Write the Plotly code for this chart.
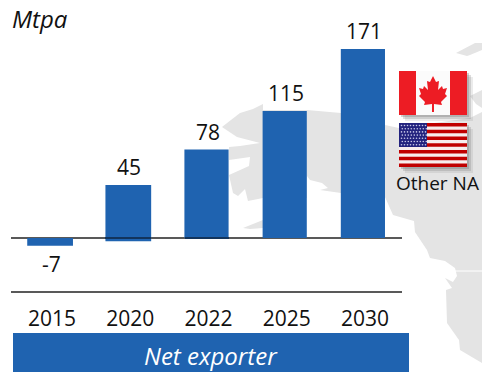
import plotly.graph_objects as go

# ---- data
categories = ["2015", "2020", "2022", "2025", "2030"]
value_labels = ["-7", "45", "78", "115", "171"]
bar_tops = [0, 48, 80, 115, 171]
bar_bases = [-7, -3, 0, 0, 0]
label_anchor = [-7, 48, 80, 115, 171]
label_shift = [-18, 18, 18, 18, 18]
bar_widths = [0.585, 0.585, 0.565, 0.565, 0.565]

W, H = 482, 372
PL, PR, PT, PB = 11, 402, 0, 291
PX_PER_UNIT = 1.105
ZERO_PX = 238
BLUE = "#1F63B0"
LINE = "#595959"
FONT = "Open Sans"


def px(x):
    return (x - PL) / (PR - PL)


def py(y):
    return (PB - y) / (PB - PT)


def path(points):
    return "M" + " L".join(f"{px(x):.4f},{py(y):.4f}" for x, y in points) + " Z"


shapes = []


def poly(points, color, layer="below"):
    shapes.append(dict(type="path", xref="paper", yref="paper", path=path(points),
                       fillcolor=color, line=dict(width=0), layer=layer))


def rect(x0, y0, x1, y1, color, layer="below"):
    shapes.append(dict(type="rect", xref="paper", yref="paper",
                       x0=px(x0), x1=px(x1), y0=py(y0), y1=py(y1),
                       fillcolor=color, line=dict(width=0), layer=layer))


# ---- background map (decoration)
MAP = "#E4E4E4"
poly([(222, 127), (240, 113), (253, 109), (263, 104), (263, 110), (307, 110), (341, 113),
      (385, 125), (399, 128), (470, 118), (482, 112), (482, 363), (460, 350), (459, 340),
      (447, 323), (446, 290), (452, 288), (445, 278), (453, 282), (457, 276), (455, 268),
      (445, 261), (430, 258), (427, 250), (415, 232), (414, 221), (393, 215), (385, 197),
      (341, 193), (320, 190), (328, 188), (322, 183), (310, 180), (307, 176),
      (307, 198), (263, 198), (248, 201), (245, 189), (238, 196),
      (233, 193), (229, 175), (249, 166), (250, 157), (229, 160), (229, 147),
      (240, 146), (260, 143), (237, 137)],
     MAP)
poly([(456, 53), (475, 43), (482, 43), (482, 50), (470, 55), (467, 56)], MAP)
poly([(470, 96), (482, 90), (482, 108), (476, 104)], MAP)
poly([(243, 228), (258, 222), (263, 220), (263, 228), (250, 229)], MAP)
shapes.append(dict(type="line", xref="paper", yref="paper", layer="below",
                   x0=px(455), x1=px(482), y0=py(271), y1=py(271),
                   line=dict(color="white", width=1)))
shapes.append(dict(type="line", xref="paper", yref="paper", layer="below",
                   x0=px(428), x1=px(453), y0=py(260), y1=py(275),
                   line=dict(color="white", width=1)))

# ---- flags (decoration)
for dx, col in ((6, "rgba(120,120,120,0.15)"), (4, "rgba(120,120,120,0.25)"), (2, "rgba(110,110,110,0.3)")):
    rect(399 + dx, 71 + dx, 467 + dx, 115 + dx, col, "above")
    rect(399 + dx, 123 + dx, 467 + dx, 167 + dx, col, "above")

RED = "#ED1C24"
rect(399, 71, 467, 115, "#FBFBFB", "above")
rect(399, 71, 416, 115, RED, "above")
rect(450, 71, 467, 115, RED, "above")
poly([(433, 76), (436, 82), (439, 81), (438, 90), (442, 86), (443, 89), (447, 88), (445, 94),
      (447, 96), (441, 102), (442, 105), (434, 104), (434, 112), (432, 112), (432, 104),
      (424, 105), (425, 102), (419, 96), (421, 94), (419, 88), (423, 89), (424, 86), (428, 90),
      (427, 81), (430, 82)], RED, "above")

rect(399, 123, 467, 167, "#F7EDED", "above")
STRIPE = 44 / 13
for i in range(0, 13, 2):
    rect(399, 123 + i * STRIPE, 467, 123 + (i + 1) * STRIPE, "#C00000", "above")
rect(399, 123, 427, 147, "#23237E", "above")
for row in range(7):
    for col in range(9):
        cx, cy = 401.5 + col * 3 + (row % 2) * 0.8, 125.5 + row * 3.2
        shapes.append(dict(type="circle", xref="paper", yref="paper", layer="above",
                           x0=px(cx - 0.8), x1=px(cx + 0.8), y0=py(cy - 0.8), y1=py(cy + 0.8),
                           fillcolor="#C8C8E8", line=dict(width=0)))

# ---- dark tint where the zero line crosses the 2020 and 2022 bars
for x0, x1 in ((105, 151), (185, 229)):
    shapes.append(dict(type="line", xref="paper", yref="paper", layer="above",
                       x0=px(x0), x1=px(x1), y0=py(238), y1=py(238),
                       line=dict(color="#12345C", width=2)))

# ---- bottom banner
rect(13, 333, 409, 372, BLUE, "above")

annotations = [
    dict(xref="x", yref="y", x=i, y=a, yshift=s, text=t, showarrow=False, xshift=1,
         font=dict(family=FONT, size=21, color="#111111"))
    for i, (a, s, t) in enumerate(zip(label_anchor, label_shift, value_labels))
]
annotations += [
    dict(xref="paper", yref="paper", x=px(10), y=py(18), xanchor="left", yanchor="middle",
         text="<i>Mtpa</i>", showarrow=False, font=dict(family=FONT, size=24, color="#111111")),
    dict(xref="paper", yref="paper", x=px(437.5), y=py(183), xanchor="center", yanchor="middle",
         text="Other NA", showarrow=False, font=dict(family=FONT, size=19, color="#111111")),
    dict(xref="paper", yref="paper", x=px(211), y=py(355), xanchor="center", yanchor="middle",
         text="<i>Net exporter</i>", showarrow=False, font=dict(family=FONT, size=24, color="white")),
]

fig = go.Figure(go.Bar(
    x=categories,
    y=[t - b for t, b in zip(bar_tops, bar_bases)],
    base=bar_bases,
    width=bar_widths,
    marker=dict(color=BLUE, line=dict(width=0)),
    hoverinfo="skip",
))

fig.update_layout(
    width=W, height=H, autosize=False,
    margin=dict(l=PL, r=W - PR, t=PT, b=H - PB, autoexpand=False),
    paper_bgcolor="white", plot_bgcolor="rgba(0,0,0,0)",
    showlegend=False, shapes=shapes, annotations=annotations,
    xaxis=dict(type="category", range=[-0.5, 4.5], showgrid=False, showline=True, linecolor=LINE, linewidth=2,
               ticks="", tickfont=dict(family=FONT, size=21, color="#111111"), ticklabelstandoff=8,
               ticklabelshift=2),
    yaxis=dict(visible=True, range=[-(PB - ZERO_PX) / PX_PER_UNIT, (ZERO_PX - PT) / PX_PER_UNIT],
               showgrid=False, showticklabels=False, ticks="", showline=False,
               zeroline=True, zerolinecolor=LINE, zerolinewidth=2),
)

fig.write_html("out.html", config=dict(displayModeBar=False),
               post_script="document.body.style.margin='0';document.body.style.overflow='hidden';")
